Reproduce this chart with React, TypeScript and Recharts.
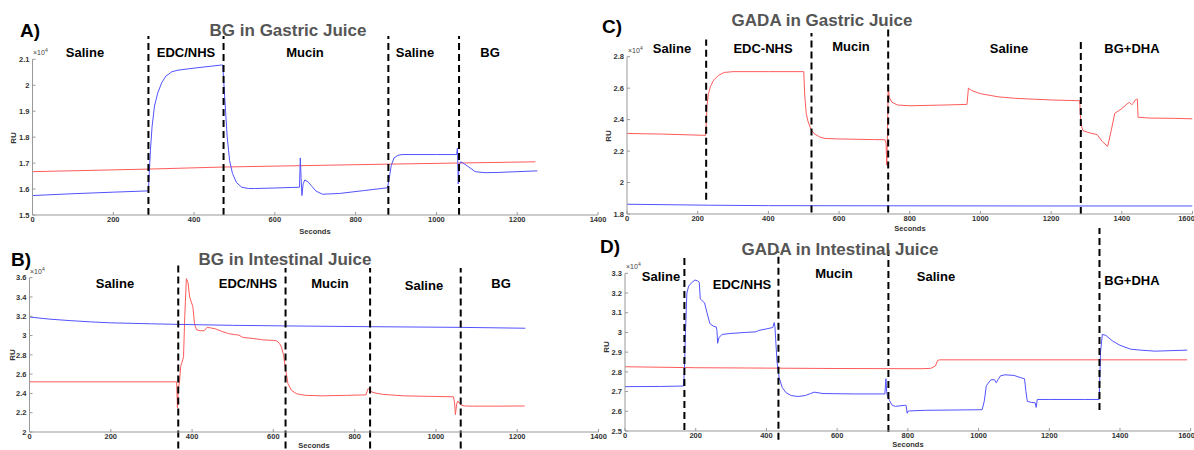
import React from 'react';
import { LineChart, Line, XAxis, YAxis, ReferenceLine } from 'recharts';

// ---------- Panel A: BG in Gastric Juice ----------
const aRedT = [0, 288, 476, 881, 1245];
const aRedY = [1.667, 1.677, 1.685, 1.696, 1.705];
const aBlueT = [
  0, 100, 200, 287, 289, 292, 296, 302, 310, 320,
  330, 345, 360, 400, 440, 468, 471, 476, 482, 488,
  495, 505, 518, 535, 550, 600, 661, 663, 665, 667,
  670, 674, 682, 692, 702, 718, 760, 820, 879, 883,
  888, 895, 905, 915, 1000, 1050, 1052, 1054, 1056, 1060,
  1068, 1080, 1096, 1120, 1153, 1200, 1250,
];
const aBlueY = [
  1.575, 1.582, 1.588, 1.593, 1.66, 1.75, 1.84, 1.92, 1.97, 2.01,
  2.035, 2.052, 2.058, 2.066, 2.073, 2.078, 2.078, 1.95, 1.8, 1.71,
  1.66, 1.625, 1.607, 1.602, 1.602, 1.604, 1.607, 1.72, 1.64, 1.575,
  1.62, 1.635, 1.628, 1.61, 1.592, 1.58, 1.583, 1.594, 1.605, 1.64,
  1.69, 1.72, 1.73, 1.733, 1.733, 1.733, 1.758, 1.62, 1.69, 1.705,
  1.698, 1.685, 1.667, 1.663, 1.664, 1.667, 1.67,
];
const aPhaseT = [287, 473, 881, 1056];
const aPhaseLabels = ['Saline', 'EDC/NHS', 'Mucin', 'Saline', 'BG'];
const aYTicks = [1.5, 1.6, 1.7, 1.8, 1.9, 2, 2.1];

// ---------- Panel B: BG in Intestinal Juice ----------
const bBlueT = [0, 50, 100, 150, 200, 300, 365, 500, 630, 840, 1060, 1220];
const bBlueY = [3.192, 3.17, 3.155, 3.142, 3.132, 3.122, 3.116, 3.106, 3.1, 3.092, 3.085, 3.076];
const bRedT = [
  0, 362, 364, 366, 369, 372, 375, 379, 382, 386,
  390, 394, 398, 402, 406, 411, 420, 430, 437, 445,
  457, 472, 490, 505, 515, 525, 550, 575, 600, 608,
  615, 620, 625, 630, 636, 645, 658, 680, 720, 780,
  828, 833, 837, 842, 850, 870, 920, 980, 1043, 1046,
  1048, 1051, 1054, 1058, 1062, 1070, 1090, 1150, 1218,
];
const bRedY = [
  2.52, 2.52, 2.25, 2.45, 2.52, 2.68, 2.72, 2.78, 3.2, 3.59,
  3.55, 3.4, 3.35, 3.3, 3.12, 3.06, 3.05, 3.05, 3.085, 3.08,
  3.07, 3.045, 3.02, 3.01, 3.005, 2.98, 2.97, 2.955, 2.95, 2.945,
  2.92, 2.88, 2.8, 2.65, 2.5, 2.43, 2.395, 2.38, 2.375, 2.38,
  2.385, 2.45, 2.44, 2.415, 2.405, 2.39, 2.375, 2.37, 2.365, 2.3,
  2.18, 2.29, 2.32, 2.3, 2.28, 2.27, 2.268, 2.268, 2.27,
];
const bPhaseT = [366, 630, 838, 1061];
const bPhaseLabels = ['Saline', 'EDC/NHS', 'Mucin', 'Saline', 'BG'];
const bYTicks = [2, 2.2, 2.4, 2.6, 2.8, 3, 3.2, 3.4, 3.6];

// ---------- Panel C: GADA in Gastric Juice ----------
const cRedT = [
  0, 100, 222, 224, 226, 230, 236, 245, 258, 275,
  300, 400, 500, 503, 507, 512, 520, 530, 545, 560,
  600, 700, 730, 733, 735, 737, 739, 742, 750, 765,
  800, 900, 962, 966, 975, 1000, 1050, 1100, 1200, 1281,
  1284, 1290, 1310, 1330, 1345, 1360, 1370, 1380, 1400, 1415,
  1422, 1428, 1433, 1438, 1442, 1444, 1446, 1480, 1550, 1600,
];
const cRedY = [
  2.312, 2.308, 2.3, 2.36, 2.48, 2.56, 2.61, 2.65, 2.68, 2.7,
  2.705, 2.705, 2.705, 2.55, 2.44, 2.39, 2.34, 2.31, 2.29, 2.28,
  2.277, 2.273, 2.272, 2.25, 2.11, 2.3, 2.62, 2.54, 2.51, 2.493,
  2.488, 2.493, 2.497, 2.6, 2.585, 2.565, 2.545, 2.535, 2.525, 2.52,
  2.37, 2.33, 2.315, 2.305, 2.26, 2.23, 2.33, 2.44, 2.47, 2.5,
  2.51, 2.495, 2.505, 2.525, 2.53, 2.53, 2.415, 2.41, 2.408, 2.405,
];
const cBlueT = [0, 230, 400, 800, 1200, 1600];
const cBlueY = [1.862, 1.856, 1.853, 1.852, 1.851, 1.851];
const cPhaseT = [224, 522, 739, 1284];
const cPhaseLabels = ['Saline', 'EDC-NHS', 'Mucin', 'Saline', 'BG+DHA'];
const cYTicks = [1.8, 2, 2.2, 2.4, 2.6, 2.8];

// ---------- Panel D: GADA in Intestinal Juice ----------
const dRedT = [0, 200, 400, 600, 840, 865, 878, 884, 890, 1000, 1300, 1590];
const dRedY = [2.826, 2.821, 2.819, 2.817, 2.816, 2.818, 2.83, 2.858, 2.861, 2.861, 2.861, 2.861];
const dBlueT = [
  0, 100, 165, 168, 171, 175, 180, 190, 198, 205,
  210, 213, 216, 225, 232, 240, 250, 258, 260, 262,
  266, 275, 300, 340, 370, 378, 400, 418, 422, 424,
  426, 430, 436, 445, 455, 470, 490, 510, 525, 535,
  560, 650, 735, 738, 740, 742, 748, 756, 765, 790,
  795, 798, 800, 805, 850, 1010, 1016, 1022, 1035, 1045,
  1050, 1055, 1062, 1075, 1100, 1120, 1130, 1134, 1138, 1150,
  1160, 1163, 1166, 1200, 1300, 1341, 1345, 1350, 1360, 1380,
  1400, 1430, 1460, 1500, 1550, 1590,
];
const dBlueY = [
  2.725, 2.726, 2.728, 2.8, 3.0, 3.2, 3.235, 3.255, 3.266, 3.262,
  3.255, 3.17, 3.165, 3.15, 3.1, 3.045, 3.032, 3.028, 3.01, 2.945,
  2.975, 2.99, 2.995, 3.0, 3.003, 3.01, 3.018, 3.025, 3.05, 3.03,
  2.97, 2.85, 2.77, 2.72, 2.695, 2.68, 2.675, 2.68, 2.69, 2.697,
  2.69, 2.688, 2.688, 2.765, 2.7, 2.68, 2.655, 2.63, 2.625, 2.63,
  2.63, 2.59, 2.6, 2.602, 2.605, 2.608, 2.65, 2.73, 2.76, 2.76,
  2.745, 2.76, 2.78, 2.785, 2.782, 2.77, 2.765, 2.7, 2.65, 2.645,
  2.643, 2.62, 2.66, 2.66, 2.66, 2.66, 2.9, 2.99, 2.985, 2.955,
  2.935, 2.915, 2.91, 2.905, 2.908, 2.91,
];
const dPhaseT = [168, 434, 745, 1342];
const dPhaseLabels = ['Saline', 'EDC/NHS', 'Mucin', 'Saline', 'BG+DHA'];
const dYTicks = [2.5, 2.6, 2.7, 2.8, 2.9, 3, 3.1, 3.2, 3.3];

const xTicks1400 = [0, 200, 400, 600, 800, 1000, 1200, 1400];
const xTicks1600 = [0, 200, 400, 600, 800, 1000, 1200, 1400, 1600];

const W = 1194;
const H = 450;
const YW = 30;
const XH = 20;
const RED = '#ff5a5a';
const BLUE = '#5252ff';
const FONT = '"Liberation Sans", Arial, Helvetica, sans-serif';

const zip = (ts: number[], vs: number[]) => ts.map((t, i) => ({ t, v: vs[i] }));
const fmt = (v: number) => String(parseFloat(v.toFixed(2)));

type Pos = [number, number];
type Panel = {
  plot: { l: number; r: number; t: number; b: number };
  xMax: number;
  xTicks: number[];
  yTicks: number[];
  red: { t: number; v: number }[];
  blue: { t: number; v: number }[];
  dashes: { t: number; y1: number; y2: number }[];
  letter: string;
  letterPos: Pos;
  title: string;
  titlePos: Pos;
  labels: string[];
  labelPos: Pos[];
  expPos: Pos;
  ruPos: Pos;
  secPos: Pos;
};

const panels: Panel[] = [
  {
    plot: { l: 32.5, r: 598, t: 59.3, b: 215 },
    xMax: 1400, xTicks: xTicks1400, yTicks: aYTicks,
    red: zip(aRedT, aRedY), blue: zip(aBlueT, aBlueY),
    dashes: aPhaseT.map((t) => ({ t, y1: 1.5, y2: 2.19 })),
    letter: 'A)', letterPos: [30, 30],
    title: 'BG in Gastric Juice', titlePos: [288, 30],
    labels: aPhaseLabels,
    labelPos: [[85, 52], [186, 52], [305, 52], [415, 52], [490, 52]],
    expPos: [33, 54], ruPos: [14, 138], secPos: [315, 232],
  },
  {
    plot: { l: 29.5, r: 598.5, t: 277.7, b: 432 },
    xMax: 1400, xTicks: xTicks1400, yTicks: bYTicks,
    red: zip(bRedT, bRedY), blue: zip(bBlueT, bBlueY),
    dashes: bPhaseT.map((t, i) => ({ t, y1: 1.83, y2: i === 0 ? 3.76 : 3.7 })),
    letter: 'B)', letterPos: [21, 259],
    title: 'BG in Intestinal Juice', titlePos: [285, 259],
    labels: bPhaseLabels,
    labelPos: [[115, 283], [248, 283], [330, 283], [424, 285], [501, 283]],
    expPos: [30, 273], ruPos: [13, 355], secPos: [314, 446],
  },
  {
    plot: { l: 627, r: 1192.5, t: 56.7, b: 214 },
    xMax: 1600, xTicks: xTicks1600, yTicks: cYTicks,
    red: zip(cRedT, cRedY), blue: zip(cBlueT, cBlueY),
    dashes: [
      { t: cPhaseT[0], y1: 1.89, y2: 2.91 },
      { t: cPhaseT[1], y1: 1.81, y2: 2.95 },
      { t: cPhaseT[2], y1: 1.81, y2: 2.98 },
      { t: cPhaseT[3], y1: 1.8, y2: 2.91 },
    ],
    letter: 'C)', letterPos: [612, 26],
    title: 'GADA in Gastric Juice', titlePos: [822, 20],
    labels: cPhaseLabels,
    labelPos: [[672, 48], [763, 48], [851, 46], [1009, 48], [1132, 48]],
    expPos: [628, 52], ruPos: [609, 136], secPos: [910, 229],
  },
  {
    plot: { l: 625, r: 1190.7, t: 273.3, b: 431 },
    xMax: 1600, xTicks: xTicks1600, yTicks: dYTicks,
    red: zip(dRedT, dRedY), blue: zip(dBlueT, dBlueY),
    dashes: [
      { t: dPhaseT[0], y1: 2.505, y2: 3.39 },
      { t: dPhaseT[1], y1: 2.455, y2: 3.41 },
      { t: dPhaseT[2], y1: 2.495, y2: 3.42 },
      { t: dPhaseT[3], y1: 2.607, y2: 3.53 },
    ],
    letter: 'D)', letterPos: [610, 246],
    title: 'GADA in Intestinal Juice', titlePos: [840, 249],
    labels: dPhaseLabels,
    labelPos: [[661, 276], [742, 284], [834, 273], [936, 276], [1132, 280]],
    expPos: [626, 268], ruPos: [607, 347], secPos: [908, 445],
  },
];

const tickStyle = { fontSize: 7.5, fill: '#333', fontFamily: FONT, fontWeight: 'bold' as const };

const textAt = (pos: Pos, content: React.ReactNode, style: React.CSSProperties, key?: string) => (
  <div
    key={key}
    style={{
      position: 'absolute',
      left: pos[0],
      top: pos[1],
      transform: 'translate(-50%, -50%)',
      whiteSpace: 'nowrap',
      fontFamily: FONT,
      lineHeight: 1,
      ...style,
    }}
  >
    {content}
  </div>
);

function PanelChart({ p }: { p: Panel }) {
  const { plot } = p;
  const yDomain: [number, number] = [p.yTicks[0], p.yTicks[p.yTicks.length - 1]];
  return (
    <>
      <div style={{ position: 'absolute', left: 0, top: 0 }}>
        <LineChart
          width={W}
          height={H}
          margin={{ top: plot.t, left: plot.l - YW, right: W - plot.r, bottom: H - plot.b - XH }}
        >
          <XAxis
            type="number"
            dataKey="t"
            domain={[0, p.xMax]}
            ticks={p.xTicks}
            allowDataOverflow
            height={XH}
            stroke="#999"
            tickSize={-3}
            tickMargin={5}
            tick={tickStyle}
            tickFormatter={fmt}
          />
          <YAxis
            type="number"
            dataKey="v"
            domain={yDomain}
            ticks={p.yTicks}
            allowDataOverflow
            width={YW}
            stroke="#999"
            tickSize={-3}
            tickMargin={6}
            tick={tickStyle}
            tickFormatter={fmt}
          />
          <Line data={p.red} dataKey="v" type="linear" stroke={RED} strokeWidth={1} dot={false} isAnimationActive={false} />
          <Line data={p.blue} dataKey="v" type="linear" stroke={BLUE} strokeWidth={1} dot={false} isAnimationActive={false} />
          {p.dashes.map((d, i) => (
            <ReferenceLine
              key={i}
              segment={[{ x: d.t, y: d.y1 }, { x: d.t, y: d.y2 }]}
              ifOverflow="visible"
              stroke="#000"
              strokeWidth={2}
              strokeDasharray="7 4"
            />
          ))}
        </LineChart>
      </div>
      {textAt(p.letterPos, p.letter, { fontSize: 19, fontWeight: 'bold', color: '#000' })}
      {textAt(p.titlePos, p.title, { fontSize: 17, fontWeight: 'bold', color: '#555' })}
      {p.labels.map((l, i) => textAt(p.labelPos[i], l, { fontSize: 13, fontWeight: 'bold', color: '#000' }, 'l' + i))}
      <div
        style={{
          position: 'absolute', left: p.expPos[0], top: p.expPos[1] - 6, fontFamily: FONT,
          fontSize: 7, color: '#444', whiteSpace: 'nowrap', lineHeight: 1,
        }}
      >
        ×10<sup style={{ fontSize: 5 }}>4</sup>
      </div>
      {textAt(p.ruPos, 'RU', { fontSize: 8, fontWeight: 'bold', color: '#333', transform: 'translate(-50%, -50%) rotate(-90deg)' })}
      {textAt(p.secPos, 'Seconds', { fontSize: 7.5, fontWeight: 'bold', color: '#333' })}
    </>
  );
}

export default function App() {
  return (
    <div style={{ position: 'absolute', left: 0, top: 0, width: W, height: H, background: '#fff', overflow: 'hidden' }}>
      {panels.map((p, i) => (
        <PanelChart key={i} p={p} />
      ))}
    </div>
  );
}
